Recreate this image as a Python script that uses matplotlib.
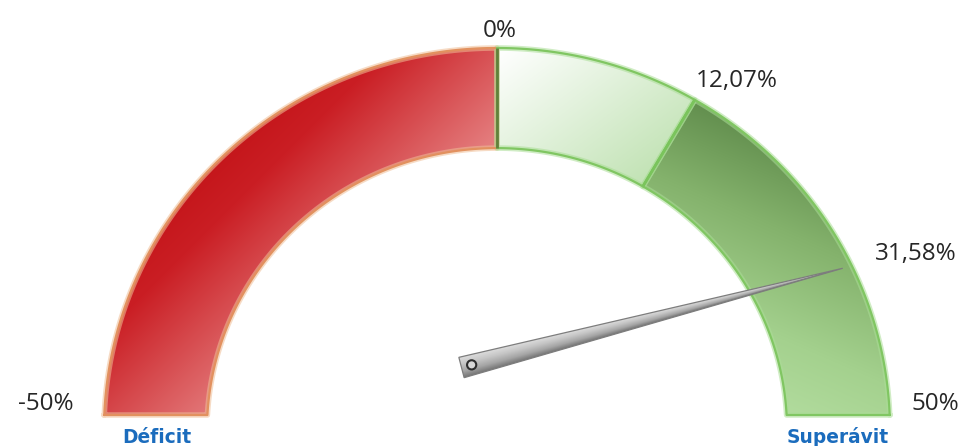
import numpy as np
import matplotlib
matplotlib.use("Agg")
import matplotlib.pyplot as plt
from matplotlib.patches import Polygon, Circle

# ---------------- data ----------------
scale_values = [-50, 0, 12.07, 31.58, 50]
scale_labels = ['-50%', '0%', '12,07%', '31,58%', '50%']
# where each scale value sits on the dial (degrees, 0 = right, 180 = left)
scale_angles = [180, 90, 59.8, 25.7, 0]
band_starts = [-50, 0, 12.07]
band_ends = [0, 12.07, 50]
needle_value = 31.58
zone_labels = ['Déficit', 'Superávit']

# ---------------- layout ----------------
W, H = 965, 446
cx, cy = 497.0, 430.0
ro, ri = 393.0, 290.0
ky = 0.972
ycut = 415.0

fig = plt.figure(figsize=(W / 100, H / 100), dpi=100)
ax = fig.add_axes([0, 0, 1, 1])
ax.set_xlim(0, W)
ax.set_ylim(H, 0)
ax.axis('off')


def angle_of(v):
    return float(np.interp(v, scale_values, scale_angles))


def gauge_pt(ang, r):
    t = np.radians(ang)
    return cx + r * np.cos(t), cy - ky * r * np.sin(t)


def band_poly(a0, a1, n=300):
    th = np.radians(np.linspace(a0, a1, n))
    xo = cx + ro * np.cos(th)
    yo = cy - ky * ro * np.sin(th)
    xi = cx + ri * np.cos(th[::-1])
    yi = cy - ky * ri * np.sin(th[::-1])
    xs = np.r_[xo, xi]
    ys = np.minimum(np.r_[yo, yi], ycut)
    return np.column_stack([xs, ys])


def grad_fill(poly, direction, stops, z=1):
    d = np.asarray(direction, float)
    d = d / np.hypot(*d)
    x0, y0 = np.floor(poly.min(0)) - 2
    x1, y1 = np.ceil(poly.max(0)) + 2
    xs = np.arange(x0, x1 + 1)
    ys = np.arange(y0, y1 + 1)
    X, Y = np.meshgrid(xs, ys)
    p = d[0] * X + d[1] * Y
    pos = [s[0] for s in stops]
    rgb = np.zeros(X.shape + (3,))
    for k in range(3):
        rgb[..., k] = np.interp(p, pos, [s[1][k] / 255 for s in stops])
    im = ax.imshow(rgb, extent=(x0 - .5, x1 + .5, y1 + .5, y0 - .5),
                   origin='upper', interpolation='bilinear', zorder=z)
    patch = Polygon(poly, closed=True, facecolor='none', edgecolor='none')
    ax.add_patch(patch)
    im.set_clip_path(patch)


def c(r, g, b):
    return (r / 255, g / 255, b / 255)


band_grads = [
    ((0.707, 0.707), [(150, (182, 0, 2)), (310, (202, 30, 36)), (470, (232, 140, 140))]),
    ((0.6, 0.8), [(340, (255, 255, 255)), (545, (190, 225, 176))]),
    ((-0.4, 0.92), [(-190, (96, 140, 76)), (-100, (132, 178, 108)),
                    (0, (164, 209, 142)), (70, (178, 220, 158))]),
]
band_edges = [c(226, 145, 95), c(128, 198, 98), c(128, 198, 98)]
band_glow = [c(240, 190, 150), c(170, 222, 150), c(170, 222, 150)]

for (s, e), (dvec, stops), ec, gc in zip(zip(band_starts, band_ends), band_grads,
                                           band_edges, band_glow):
    poly = band_poly(angle_of(s), angle_of(e))
    grad_fill(poly, dvec, stops, z=1)
    ax.add_patch(Polygon(poly, closed=True, fill=False, edgecolor=gc,
                         lw=4.0, alpha=0.55, zorder=2, joinstyle='round'))
    ax.add_patch(Polygon(poly, closed=True, fill=False, edgecolor=ec,
                         lw=1.6, zorder=3, joinstyle='round'))

# boundary line at 0 (olive) and 12.07 (bright green)
for v, col, lw in [(0, c(98, 128, 58), 2.0), (12.07, c(122, 196, 92), 2.0)]:
    a = angle_of(v)
    p0 = gauge_pt(a, ri)
    p1 = gauge_pt(a, ro)
    ax.plot([p0[0], p1[0]], [p0[1], p1[1]], color=col, lw=lw, zorder=4,
            solid_capstyle='butt')

# ---------------- needle ----------------
tip = np.array(gauge_pt(angle_of(needle_value), ri + 0.91 * (ro - ri)))
base = np.array([461.5, 367.5])
u = (tip - base) / np.hypot(*(tip - base))
nrm = np.array([-u[1], u[0]])
if nrm[1] < 0:
    nrm = -nrm
hw = 10.5
needle = np.array([base - hw * nrm, tip, base + hw * nrm])
x0, y0 = np.floor(needle.min(0)) - 2
x1, y1 = np.ceil(needle.max(0)) + 2
xs = np.arange(x0, x1 + 1)
ys = np.arange(y0, y1 + 1)
X, Y = np.meshgrid(xs, ys)
along = (X - base[0]) * u[0] + (Y - base[1]) * u[1]
L = np.hypot(*(tip - base))
width_here = np.clip(hw * (1 - along / L), 0.8, None)
q = ((X - base[0]) * nrm[0] + (Y - base[1]) * nrm[1]) / width_here
q = np.clip(q, -1, 1)
g = np.interp(q, [-1, -0.3, 0.4, 1], [222, 198, 165, 118]) / 255
rgb = np.dstack([g, g, g])
im = ax.imshow(rgb, extent=(x0 - .5, x1 + .5, y1 + .5, y0 - .5), origin='upper',
               interpolation='bilinear', zorder=6)
npatch = Polygon(needle, closed=True, facecolor='none', edgecolor='none')
ax.add_patch(npatch)
im.set_clip_path(npatch)
ax.add_patch(Polygon(needle, closed=True, fill=False, edgecolor=c(125, 125, 125),
                     lw=0.9, zorder=7, joinstyle='miter'))
hole = base + 10.5 * u
ax.add_patch(Circle(hole, 4.6, facecolor=c(215, 215, 215), edgecolor=c(45, 45, 45),
                    lw=1.5, zorder=8))

# ---------------- labels ----------------
label_xy = [(46, 410), (500, 37), (737, 87), (916, 260), (935, 410)]
for txt, (x, y) in zip(scale_labels, label_xy):
    ax.text(x, y, txt, ha='center', va='baseline', fontsize=17.5,
            family=['Open Sans', 'DejaVu Sans'], color='#262626', zorder=9)

zone_xy = [(157, 443), (838, 443)]
for txt, (x, y) in zip(zone_labels, zone_xy):
    ax.text(x, y, txt, ha='center', va='baseline', fontsize=13.4, fontweight='bold',
            family=['DejaVu Sans'], color='#1b6cbd', zorder=9)

fig.savefig('out.png', dpi=100)
